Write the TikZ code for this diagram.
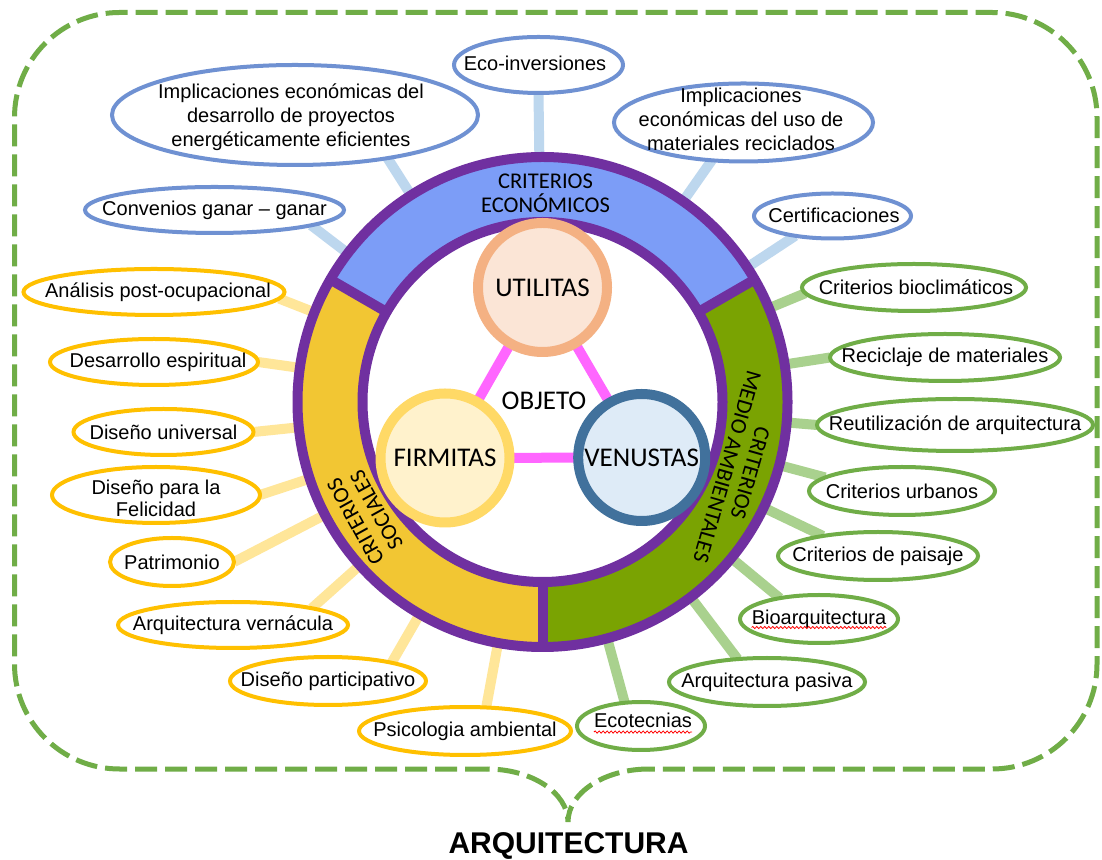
\documentclass[tikz,border=0pt]{standalone}
\usepackage{fontspec}
\setmainfont{Liberation Sans}
\newfontfamily\carl{Carlito}
\usetikzlibrary{shapes.geometric,decorations.pathmorphing,calc}
\pgfdeclarelayer{bgw}
\pgfdeclarelayer{conn}
\pgfsetlayers{bgw,conn,main}
\definecolor{purp}{HTML}{7030A0}
\definecolor{bandblue}{HTML}{7C9DF7}
\definecolor{bandyellow}{HTML}{F2C633}
\definecolor{bandgreen}{HTML}{7AA302}
\definecolor{ellblue}{HTML}{6F91D2}
\definecolor{conblue}{HTML}{BDD7EE}
\definecolor{ellyellow}{HTML}{FFC000}
\definecolor{conyellow}{HTML}{FFE699}
\definecolor{ellgreen}{HTML}{70AD47}
\definecolor{congreen}{HTML}{A9D18E}
\definecolor{dashgreen}{HTML}{70AD47}
\definecolor{utilfill}{HTML}{FBE5D6}
\definecolor{utildraw}{HTML}{F4B183}
\definecolor{firmfill}{HTML}{FFF2CC}
\definecolor{firmdraw}{HTML}{FFD966}
\definecolor{venufill}{HTML}{DEEBF7}
\definecolor{venudraw}{HTML}{41719C}
\definecolor{pinkline}{HTML}{FF66FF}
\tikzset{
  ell/.style={ellipse, fill=white, line width=4pt, inner sep=0pt, outer sep=0pt},
  eblue/.style={ell, draw=ellblue},
  egreen/.style={ell, draw=ellgreen},
  eyellow/.style={ell, draw=ellyellow},
  lab/.style={font={\fontsize{20}{24}\selectfont}, align=center, inner sep=0pt},
  cblue/.style={draw=conblue, line width=10pt},
  cgreen/.style={draw=congreen, line width=10pt},
  cyellow/.style={draw=conyellow, line width=10pt},
  ringtxt/.style={font={\carl\fontsize{22.5}{24}\selectfont}, align=center, inner sep=0pt},
  core/.style={circle, line width=10pt, inner sep=0pt, minimum size=129pt, font={\carl\fontsize{27}{30}\selectfont}},
  dashline/.style={draw=dashgreen, line width=5pt, dash pattern=on 22pt off 8pt},
  squig/.style={draw=red, line width=0.8pt, decorate, decoration={snake, amplitude=1.1pt, segment length=4pt}},
  purpline/.style={draw=purp, line width=10pt},
}
\begin{document}
\begin{tikzpicture}[x=1pt,y=1pt]
\useasboundingbox (0,0) rectangle (1102,859);
\begin{pgfonlayer}{bgw}
\fill[white] (0,0) rectangle (1102,859);
\end{pgfonlayer}

% dashed frame with brace
\draw[dashline, rounded corners=105pt] (487,90) -- (14.5,90) -- (14.5,846.5) -- (1097,846.5) -- (1097,90) -- (649,90);
\draw[dashline] (649,90) .. controls (604,90) and (568,66) .. (568,37) .. controls (568,66) and (532,90) .. (487,90);
\node[font={\bfseries\fontsize{30}{32}\selectfont}, anchor=base, inner sep=0pt] (arq) at (568.5,5.5) {ARQUITECTURA};

% ring
\coordinate (C) at (542.5,457);
\fill[bandblue] (C) -- ($(C)+(30:245)$) arc[start angle=30, end angle=150, radius=245pt] -- cycle;
\fill[bandyellow] (C) -- ($(C)+(150:245)$) arc[start angle=150, end angle=270, radius=245pt] -- cycle;
\fill[bandgreen] (C) -- ($(C)+(270:245)$) arc[start angle=270, end angle=390, radius=245pt] -- cycle;
\fill[white] (C) circle[radius=180pt];
\draw[purpline] (C) circle[radius=245pt];
\draw[purpline] (C) circle[radius=180pt];
\foreach \a in {30,150,270} \draw[purpline] ($(C)+(\a:180)$) -- ($(C)+(\a:245)$);

\node[ringtxt] (econ) at (545.5,665.5) {CRITERIOS\\ECONÓMICOS};
\node[ringtxt, rotate=119] (soc) at (366,343) {CRITERIOS\\SOCIALES};
\node[ringtxt, rotate=-106] (medio) at (738.7,389) {CRITERIOS\\MEDIO AMBIENTALES};

% core
\coordinate (uc) at (542.5,571.5);
\coordinate (fc) at (445,401);
\coordinate (vc) at (641.7,401.5);
\draw[draw=pinkline, line width=10pt] (uc) -- (fc) -- (vc) -- cycle;
\node[core, fill=utilfill, draw=utildraw] (util) at (uc) {UTILITAS};
\node[core, fill=firmfill, draw=firmdraw] (firm) at (fc) {FIRMITAS};
\node[core, fill=venufill, draw=venudraw, minimum size=127pt] (venu) at (vc) {VENUSTAS};
\node[font={\carl\fontsize{27}{30}\selectfont}, inner sep=0pt] (obj) at (544,458.5) {OBJETO};

% blue ellipses
\node[eblue, minimum width=366pt, minimum height=100pt] (imp1) at (295,744) {};
\node[lab] (imp1-t) at (291,742) {Implicaciones económicas del\\desarrollo de proyectos\\energéticamente eficientes};
\node[eblue, minimum width=259pt, minimum height=46pt] (conv) at (214.5,649) {};
\node[lab] (conv-t) at (conv) {Convenios ganar – ganar};
\node[eblue, minimum width=169pt, minimum height=56pt] (eco) at (538.5,794) {};
\node[lab] (eco-t) at (535,796) {Eco-inversiones};
\node[eblue, minimum width=259pt, minimum height=78pt] (imp2) at (743.5,736.5) {};
\node[lab] (imp2-t) at (741,740) {Implicaciones\\económicas del uso de\\materiales reciclados};
\node[eblue, minimum width=157pt, minimum height=45pt] (cert) at (832.5,643) {};
\node[lab] (cert-t) at (834,644) {Certificaciones};

% green ellipses
\node[egreen, minimum width=224pt, minimum height=47pt] (bio) at (914,571.5) {};
\node[lab] (bio-t) at (916,571.5) {Criterios bioclimáticos};
\node[egreen, minimum width=230pt, minimum height=47pt] (rec) at (945,501.5) {};
\node[lab] (rec-t) at (rec) {Reciclaje de materiales};
\node[egreen, minimum width=276pt, minimum height=52pt] (reu) at (955,434) {};
\node[lab] (reu-t) at (reu) {Reutilización de arquitectura};
\node[egreen, minimum width=186pt, minimum height=48pt] (urb) at (902,368) {};
\node[lab] (urb-t) at (urb) {Criterios urbanos};
\node[egreen, minimum width=200pt, minimum height=48pt] (pai) at (878,303) {};
\node[lab] (pai-t) at (pai) {Criterios de paisaje};
\node[egreen, minimum width=158pt, minimum height=48pt] (barq) at (819,240) {};
\node[lab] (barq-t) at (barq) {Bioarquitectura};
\node[egreen, minimum width=196pt, minimum height=48pt] (pas) at (767,177) {};
\node[lab] (pas-t) at (pas) {Arquitectura pasiva};
\node[egreen, minimum width=128pt, minimum height=48pt] (ecot) at (641,133) {};
\node[lab] (ecot-t) at (643,138.5) {Ecotecnias};
\draw[squig] ([yshift=1pt]barq-t.south west) -- ([yshift=1pt]barq-t.south east);
\draw[squig] ([yshift=-4pt]ecot-t.south west) -- ([yshift=-4pt]ecot-t.south east);

% yellow ellipses
\node[eyellow, minimum width=261pt, minimum height=46pt] (ana) at (154,567) {};
\node[lab] (ana-t) at (158,567) {Análisis post-ocupacional};
\node[eyellow, minimum width=208pt, minimum height=46pt] (desp) at (154,497) {};
\node[lab] (desp-t) at (158,497) {Desarrollo espiritual};
\node[eyellow, minimum width=180pt, minimum height=46pt] (duni) at (163.5,427) {};
\node[lab] (duni-t) at (duni) {Diseño universal};
\node[eyellow, minimum width=208pt, minimum height=56pt] (fel) at (156,364) {};
\node[lab, font={\fontsize{20}{22}\selectfont}] (fel-t) at (156,361) {Diseño para la\\Felicidad};
\node[eyellow, minimum width=124pt, minimum height=48pt] (pat) at (172,297) {};
\node[lab] (pat-t) at (pat) {Patrimonio};
\node[eyellow, minimum width=230pt, minimum height=46pt] (ver) at (233,234) {};
\node[lab] (ver-t) at (ver) {Arquitectura vernácula};
\node[eyellow, minimum width=196pt, minimum height=48pt] (par) at (328,178) {};
\node[lab] (par-t) at (par) {Diseño participativo};
\node[eyellow, minimum width=212pt, minimum height=48pt] (psi) at (465,128) {};
\node[lab] (psi-t) at (psi) {Psicologia ambiental};

% connectors (behind)
\begin{pgfonlayer}{conn}
\draw[cblue] (imp1.-25) -- (C);
\draw[cblue] (conv.-9) -- (C);
\draw[cblue] (eco.south) -- (C);
\draw[cblue] (imp2.-130) -- (C);
\draw[cblue] (cert.-152) -- (C);
\draw[cgreen] (bio.-177) -- (C);
\draw[cgreen] (rec.180) -- (C);
\draw[cgreen] (reu.180) -- (C);
\draw[cgreen] (urb.170) -- (C);
\draw[cgreen] (pai.160) -- (C);
\draw[cgreen] (barq.152) -- (C);
\draw[cgreen] (pas.142) -- (C);
\draw[cgreen] (ecot.125) -- (C);
\draw[cyellow] (ana.-3) -- (C);
\draw[cyellow] (desp.0) -- (C);
\draw[cyellow] (duni.0) -- (C);
\draw[cyellow] (fel.0) -- (C);
\draw[cyellow] (pat.0) -- (C);
\draw[cyellow] (ver.12) -- (C);
\draw[cyellow] (par.16) -- (C);
\draw[cyellow] (psi.48) -- (C);
\end{pgfonlayer}
\end{tikzpicture}
\end{document}
